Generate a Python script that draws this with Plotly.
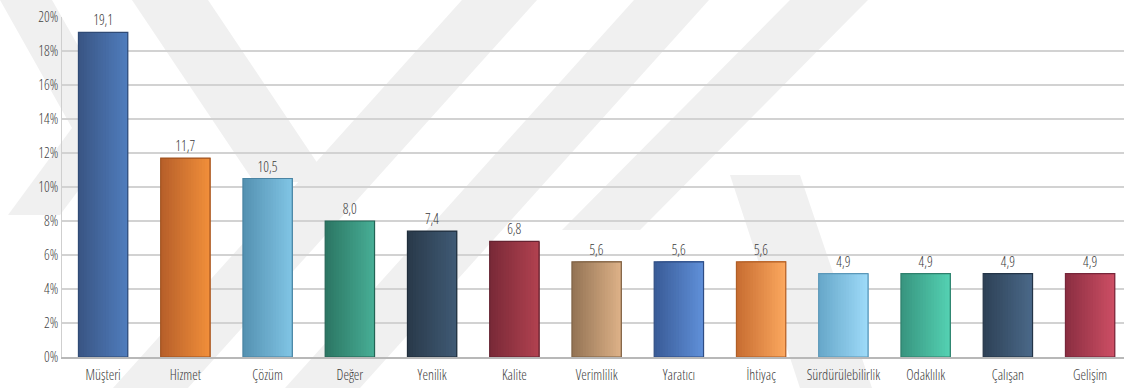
import plotly.graph_objects as go

# Category labels and their shares (percent)
categories = ["Müşteri", "Hizmet", "Çözüm", "Değer", "Yenilik", "Kalite", "Verimlilik",
              "Yaratıcı", "İhtiyaç", "Sürdürülebilirlik", "Odaklılık", "Çalışan", "Gelişim"]
values = [19.1, 11.7, 10.5, 8.0, 7.4, 6.8, 5.6, 5.6, 5.6, 4.9, 4.9, 4.9, 4.9]
y_ticks = list(range(0, 21, 2))

# Left (dark) and right (light) colour of each bar's horizontal gradient
dark_colors = ["#3a5685", "#b8602a", "#5592b2", "#2c7764", "#2a3a4b", "#7a2a38", "#957555",
               "#3a5c98", "#c86e32", "#68a8ca", "#389680", "#2e4257", "#8c2f42"]
light_colors = ["#4f7cbc", "#f08e3a", "#80c4e4", "#47ad95", "#3f5a74", "#b0414f", "#dcb087",
                "#5f8fd8", "#fba75e", "#9ddaf8", "#54d0b2", "#4a6888", "#cc4e64"]
edge_colors = ["#2f4a75", "#a0521f", "#4a84a3", "#236455", "#1f2d3b", "#652230", "#7f6245",
               "#2f4d84", "#b05e26", "#5a97b8", "#2e806c", "#233447", "#77263a"]

BAR_W = 0.6
N_STRIPS = 18

PLOT_L, PLOT_R, PLOT_T, PLOT_B = 62, 1124, 17, 357
W, H = 1124, 388

FONT = "Open Sans, sans-serif"
NARROW = "font-stretch:75%;font-weight:300"


def narrow(s):
    return f'<span style="{NARROW}">{s}</span>'


def mix(c1, c2, t):
    a = [int(c1[i:i + 2], 16) for i in (1, 3, 5)]
    b = [int(c2[i:i + 2], 16) for i in (1, 3, 5)]
    return "rgb({},{},{})".format(*[round(a[k] + (b[k] - a[k]) * t) for k in range(3)])


def px(x, y):
    # pixel position -> paper coordinates of the plot area
    return ((x - PLOT_L) / (PLOT_R - PLOT_L), (PLOT_B - y) / (PLOT_B - PLOT_T))


def poly(points):
    pts = [px(x, y) for x, y in points]
    return "M " + " L ".join(f"{a:.4f},{b:.4f}" for a, b in pts) + " Z"


fig = go.Figure()

# Gradient fill: overlapping strips, each running from its own left edge to the bar's right edge
for k in range(N_STRIPS):
    t = k / (N_STRIPS - 1)
    start = -BAR_W / 2 + k * BAR_W / N_STRIPS
    fig.add_trace(go.Bar(
        x=categories, y=values,
        offset=start, width=BAR_W / 2 - start,
        marker=dict(color=[mix(d, l, t) for d, l in zip(dark_colors, light_colors)],
                    line=dict(width=0)),
        hoverinfo="skip", showlegend=False,
    ))

# Bar outline with value labels (decimal comma)
value_labels = [narrow(f"{v:.1f}".replace(".", ",")) for v in values]
fig.add_trace(go.Bar(
    x=categories, y=values,
    offset=-BAR_W / 2, width=BAR_W,
    marker=dict(color="rgba(0,0,0,0)", line=dict(color=edge_colors, width=1.2)),
    text=value_labels, textposition="outside", cliponaxis=False,
    textfont=dict(family=FONT, size=14, color="#3c3c3c"),
    showlegend=False,
))

# Faint background watermark bands
watermark = [
    [(0, 0), (52, 0), (125, 128), (72, 128)],
    [(72, 128), (125, 128), (60, 215), (8, 215)],
    [(132, 0), (208, 0), (330, 182), (254, 182)],
    [(462, 0), (537, 0), (188, 388), (113, 388)],
    [(634, 0), (709, 0), (360, 388), (285, 388)],
    [(790, 0), (868, 0), (640, 230), (562, 230)],
    [(730, 175), (800, 175), (872, 388), (800, 388)],
]
shapes = [dict(type="path", path=poly(p), xref="paper", yref="paper",
               fillcolor="#f0f0f0", line=dict(width=0), layer="below") for p in watermark]

fig.update_layout(
    width=W, height=H,
    margin=dict(l=PLOT_L, r=W - PLOT_R, t=PLOT_T, b=H - PLOT_B),
    barmode="overlay",
    paper_bgcolor="white", plot_bgcolor="rgba(0,0,0,0)",
    shapes=shapes,
    font=dict(family=FONT, size=13, color="#555555"),
    xaxis=dict(
        type="category",
        range=[-0.5, -0.5 + (PLOT_R - PLOT_L) / 82.25],
        tickmode="array", tickvals=categories, ticktext=[narrow(c) for c in categories],
        showgrid=False, ticks="", showline=True, linecolor="#b8b8b8", linewidth=2,
        ticklabelstandoff=4,
        tickfont=dict(family=FONT, size=14, color="#3c3c3c"),
        fixedrange=True,
    ),
    yaxis=dict(
        range=[0, 20],
        tickmode="array", tickvals=y_ticks, ticktext=[narrow(f"{v}%") for v in y_ticks],
        showgrid=True, gridcolor="#d2d2d2", gridwidth=2,
        showline=True, linecolor="#cfcfcf", linewidth=1,
        zeroline=False, ticks="", ticklabelstandoff=0,
        tickfont=dict(family=FONT, size=14, color="#444444"),
        fixedrange=True,
    ),
)

fig.write_html("out.html")
